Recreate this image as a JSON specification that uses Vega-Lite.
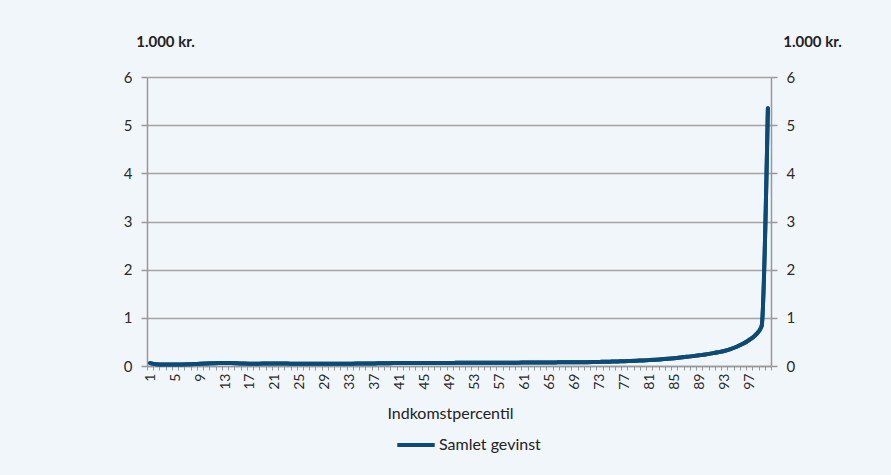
{
  "$schema": "https://vega.github.io/schema/vega-lite/v6.json",
  "width": 624,
  "height": 289,
  "autosize": {"type": "none"},
  "padding": {"left": 147, "top": 77, "right": 120, "bottom": 109},
  "background": "#f1f6fb",
  "config": {
    "view": {"stroke": null},
    "font": "Lato",
    "axis": {"labelFont": "Lato", "titleFont": "Lato", "labelColor": "#2a2a2a", "titleColor": "#222"}
  },
  "data": {"values": [
    {"p": 1, "v": 0.06}, {"p": 2, "v": 0.035}, {"p": 3, "v": 0.03}, {"p": 4, "v": 0.03}, {"p": 5, "v": 0.03},
    {"p": 6, "v": 0.032}, {"p": 7, "v": 0.035}, {"p": 8, "v": 0.04}, {"p": 9, "v": 0.045}, {"p": 10, "v": 0.05},
    {"p": 11, "v": 0.055}, {"p": 12, "v": 0.06}, {"p": 13, "v": 0.062}, {"p": 14, "v": 0.06}, {"p": 15, "v": 0.055},
    {"p": 16, "v": 0.05}, {"p": 17, "v": 0.048}, {"p": 18, "v": 0.048}, {"p": 19, "v": 0.05}, {"p": 20, "v": 0.05},
    {"p": 21, "v": 0.05}, {"p": 22, "v": 0.05}, {"p": 23, "v": 0.05}, {"p": 24, "v": 0.048}, {"p": 25, "v": 0.048},
    {"p": 26, "v": 0.048}, {"p": 27, "v": 0.048}, {"p": 28, "v": 0.048}, {"p": 29, "v": 0.048}, {"p": 30, "v": 0.048},
    {"p": 31, "v": 0.048}, {"p": 32, "v": 0.048}, {"p": 33, "v": 0.048}, {"p": 34, "v": 0.05}, {"p": 35, "v": 0.05},
    {"p": 36, "v": 0.052}, {"p": 37, "v": 0.054}, {"p": 38, "v": 0.056}, {"p": 39, "v": 0.058}, {"p": 40, "v": 0.06},
    {"p": 41, "v": 0.06}, {"p": 42, "v": 0.061}, {"p": 43, "v": 0.061}, {"p": 44, "v": 0.062}, {"p": 45, "v": 0.062},
    {"p": 46, "v": 0.063}, {"p": 47, "v": 0.063}, {"p": 48, "v": 0.064}, {"p": 49, "v": 0.064}, {"p": 50, "v": 0.065},
    {"p": 51, "v": 0.066}, {"p": 52, "v": 0.066}, {"p": 53, "v": 0.067}, {"p": 54, "v": 0.067}, {"p": 55, "v": 0.068},
    {"p": 56, "v": 0.068}, {"p": 57, "v": 0.069}, {"p": 58, "v": 0.069}, {"p": 59, "v": 0.07}, {"p": 60, "v": 0.07},
    {"p": 61, "v": 0.071}, {"p": 62, "v": 0.072}, {"p": 63, "v": 0.072}, {"p": 64, "v": 0.073}, {"p": 65, "v": 0.074},
    {"p": 66, "v": 0.075}, {"p": 67, "v": 0.076}, {"p": 68, "v": 0.077}, {"p": 69, "v": 0.078}, {"p": 70, "v": 0.079},
    {"p": 71, "v": 0.08}, {"p": 72, "v": 0.082}, {"p": 73, "v": 0.085}, {"p": 74, "v": 0.088}, {"p": 75, "v": 0.092},
    {"p": 76, "v": 0.096}, {"p": 77, "v": 0.1}, {"p": 78, "v": 0.105}, {"p": 79, "v": 0.11}, {"p": 80, "v": 0.115},
    {"p": 81, "v": 0.122}, {"p": 82, "v": 0.13}, {"p": 83, "v": 0.14}, {"p": 84, "v": 0.15}, {"p": 85, "v": 0.162},
    {"p": 86, "v": 0.175}, {"p": 87, "v": 0.19}, {"p": 88, "v": 0.205}, {"p": 89, "v": 0.222}, {"p": 90, "v": 0.24},
    {"p": 91, "v": 0.262}, {"p": 92, "v": 0.285}, {"p": 93, "v": 0.312}, {"p": 94, "v": 0.35}, {"p": 95, "v": 0.4},
    {"p": 96, "v": 0.46}, {"p": 97, "v": 0.54}, {"p": 98, "v": 0.64}, {"p": 99, "v": 0.83}, {"p": 100, "v": 5.35}
  ]},
  "layer": [
    {
      "mark": {"type": "line", "strokeWidth": 4, "interpolate": "monotone", "strokeCap": "round"},
      "encoding": {
        "x": {
          "field": "p", "type": "ordinal", "bandPosition": 0.5,
          "scale": {"type": "band", "paddingInner": 0, "paddingOuter": 0},
          "axis": {
            "title": "Indkomstpercentil", "titleFontSize": 16, "titleFontWeight": "normal",
            "titleX": 303, "titleY": 47, "titleBaseline": "middle", "titleAlign": "center",
            "labelAngle": -90, "labelFontSize": 14, "labelOverlap": false, "labelPadding": 3,
            "labelExpr": "(datum.value - 1) % 4 === 0 ? datum.label : ''",
            "tickBand": "extent", "tickSize": 4, "tickColor": "#999", "tickWidth": 1,
            "domainColor": "#999", "domainWidth": 1.5, "grid": false
          }
        },
        "y": {
          "field": "v", "type": "quantitative",
          "scale": {"domain": [0, 6], "nice": false},
          "axis": {
            "orient": "left", "values": [0, 1, 2, 3, 4, 5, 6],
            "title": "1.000 kr.", "titleAngle": 0, "titleFontSize": 15, "titleFontWeight": "bold",
            "titleX": 18, "titleY": -36, "titleAlign": "center", "titleBaseline": "middle",
            "labelFontSize": 15, "labelPadding": 9, "tickSize": 6, "tickColor": "#999", "tickWidth": 1.5,
            "domainColor": "#999", "domainWidth": 1.5,
            "grid": true, "gridColor": "#a3a3a3", "gridWidth": 1.5
          }
        },
        "color": {
          "datum": "Samlet gevinst",
          "scale": {"range": ["#0d4a75"]},
          "legend": {
            "title": null, "orient": "none", "legendX": 248, "legendY": 347,
            "symbolType": "stroke", "symbolStrokeWidth": 4, "symbolSize": 1400,
            "labelFontSize": 16, "labelFont": "Lato", "labelColor": "#222", "labelOffset": 2
          }
        }
      }
    },
    {
      "mark": {"type": "line", "strokeWidth": 4, "interpolate": "monotone", "strokeCap": "round", "color": "#0d4a75"},
      "encoding": {
        "x": {"field": "p", "type": "ordinal", "bandPosition": 0.5},
        "y": {
          "field": "v", "type": "quantitative",
          "axis": {
            "orient": "right", "values": [0, 1, 2, 3, 4, 5, 6],
            "title": "1.000 kr.", "titleAngle": 0, "titleFontSize": 15, "titleFontWeight": "bold",
            "titleX": 41, "titleY": -36, "titleAlign": "center", "titleBaseline": "middle",
            "labelFontSize": 15, "labelPadding": 9, "tickSize": 6, "tickColor": "#999", "tickWidth": 1.5,
            "domainColor": "#999", "domainWidth": 1.5, "grid": false
          }
        }
      }
    }
  ],
  "resolve": {"axis": {"y": "independent"}}
}
